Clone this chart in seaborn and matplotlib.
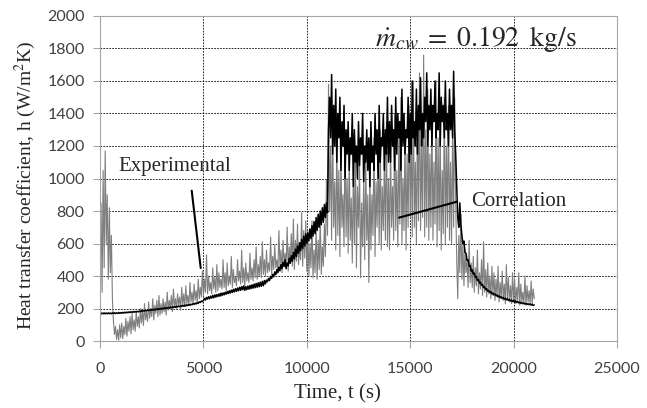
import numpy as np
import pandas as pd
import seaborn as sns
import matplotlib.pyplot as plt

# time axis (s), one reading every 50 s
time_s = np.arange(0, 21001, 50)

# experimental h (W/m2K) (one row = 1000 s)
h_exp = [
    400, 850, 300, 1050, 450, 1170, 600, 900, 380, 820, 420, 650, 250, 120, 40, 90, 10, 70, 5, 100,
    20, 110, 15, 90, 40, 140, 30, 120, 60, 150, 45, 170, 70, 130, 60, 180, 90, 150, 80, 200,
    110, 190, 95, 230, 130, 180, 120, 240, 140, 200, 150, 260, 130, 220, 170, 250, 150, 280, 160, 230,
    170, 260, 180, 240, 160, 300, 190, 250, 200, 280, 180, 320, 210, 260, 200, 290, 220, 270, 190, 330,
    220, 290, 210, 340, 230, 280, 220, 360, 240, 300, 230, 350, 250, 310, 240, 380, 260, 330, 270, 430,
    280, 380, 300, 530, 290, 400, 310, 360, 290, 450, 320, 390, 300, 470, 310, 420, 330, 380, 320, 500,
    330, 420, 310, 480, 340, 400, 350, 520, 330, 440, 360, 390, 340, 500, 370, 430, 350, 560, 360, 450,
    340, 480, 370, 420, 360, 540, 380, 450, 370, 500, 390, 580, 380, 470, 400, 520, 390, 610, 410, 500,
    400, 560, 420, 480, 430, 640, 410, 520, 440, 590, 450, 500, 430, 680, 460, 560, 420, 620, 470, 540,
    450, 700, 430, 580, 480, 660, 460, 750, 440, 620, 490, 720, 470, 580, 500, 790, 460, 680, 510, 740,
    430, 680, 400, 600, 450, 740, 390, 560, 420, 700, 380, 620, 440, 760, 410, 580, 460, 720, 520, 990,
    650, 1580, 800, 1200, 620, 1350, 700, 980, 560, 1250, 650, 1050, 520, 1150, 700, 900, 580, 1300, 640, 1000,
    540, 1150, 620, 880, 480, 1050, 600, 1200, 450, 950, 700, 1100, 390, 850, 580, 1000, 500, 1150, 620, 900,
    360, 1050, 560, 900, 650, 1250, 520, 980, 700, 1150, 600, 1300, 560, 950, 680, 1100, 620, 1350, 580, 1000,
    560, 1200, 700, 950, 620, 1400, 680, 1050, 580, 1250, 720, 1500, 600, 1000, 680, 1300, 560, 1150, 700, 1450,
    760, 1250, 640, 1600, 700, 1100, 600, 1400, 740, 1650, 680, 1200, 760, 1760, 640, 1300, 700, 1550, 620, 1150,
    700, 1450, 620, 1100, 720, 1600, 580, 1250, 680, 1350, 560, 1050, 660, 1500, 600, 1200, 700, 1450, 620, 1100,
    600, 1300, 700, 1500, 850, 500, 260, 650, 420, 780, 380, 600, 340, 560, 420, 500, 330, 620, 360, 480,
    330, 520, 300, 450, 340, 560, 290, 420, 320, 500, 280, 610, 300, 440, 270, 480, 290, 400, 260, 460,
    280, 420, 250, 380, 270, 460, 240, 360, 260, 430, 250, 350, 230, 470, 250, 390, 240, 340, 230, 420,
    240, 380, 230, 330, 250, 420, 220, 350, 240, 300, 230, 400, 220, 340, 240, 310, 225, 370, 230, 320,
    260,
]

# correlation h (W/m2K), black trace
h_corr = [
    173, 167, 172, 168, 173, 167, 172, 168, 173, 168, 172, 168, 173, 169, 174, 169, 173, 170, 175, 170,
    175, 171, 176, 172, 177, 173, 178, 174, 179, 175, 180, 176, 181, 177, 182, 178, 183, 179, 184, 180,
    186, 182, 188, 184, 190, 185, 191, 187, 193, 188, 194, 190, 196, 191, 197, 193, 199, 194, 200, 196,
    202, 197, 204, 199, 205, 201, 207, 202, 209, 204, 210, 206, 212, 207, 214, 209, 215, 211, 217, 213,
    219, 214, 221, 216, 223, 218, 225, 220, 227, 223, 230, 225, 233, 228, 237, 232, 241, 237, 246, 242,
    250, 262, 252, 268, 258, 272, 260, 276, 264, 280, 266, 284, 270, 286, 274, 290, 276, 294, 280, 296,
    284, 300, 288, 304, 292, 309, 295, 313, 299, 318, 302, 322, 306, 326, 309, 331, 312, 335, 316, 339,
    312, 334, 316, 338, 319, 342, 322, 346, 325, 350, 328, 354, 331, 358, 334, 362, 337, 367, 340, 372,
    352, 375, 365, 385, 372, 398, 385, 410, 395, 425, 408, 440, 420, 455, 432, 470, 445, 485, 458, 500,
    445, 480, 462, 510, 478, 525, 490, 545, 505, 565, 520, 585, 540, 605, 555, 625, 570, 645, 585, 660,
    600, 665, 615, 690, 630, 710, 645, 735, 660, 760, 680, 780, 700, 800, 715, 820, 730, 840, 760, 850,
    790, 1300, 1500, 1250, 1640, 1150, 1450, 1200, 1550, 1100, 1400, 1250, 1500, 1050, 1350, 1200, 1450, 1000, 1300, 1150,
    1350, 1050, 1250, 1150, 1400, 950, 1300, 1100, 1200, 1000, 1350, 1080, 1250, 1150, 1400, 980, 1200, 1100, 1300, 1050,
    1250, 950, 1350, 1100, 1200, 1050, 1400, 1150, 1300, 1000, 1450, 1100, 1250, 1200, 1400, 1050, 1300, 1150, 1500, 1100,
    1350, 1100, 1450, 1200, 1300, 1050, 1500, 1150, 1400, 1250, 1350, 1050, 1550, 1200, 1400, 1150, 1300, 1250, 1500, 1100,
    1400, 1150, 1600, 1250, 1350, 1200, 1550, 1150, 1450, 1300, 1620, 1200, 1400, 1250, 1500, 1350, 1650, 1200, 1450, 1300,
    1550, 1200, 1450, 1350, 1600, 1250, 1400, 1300, 1650, 1200, 1500, 1350, 1450, 1250, 1600, 1300, 1400, 1200, 1550, 1300,
    1450, 1250, 1660, 1300, 1150, 950, 760, 700, 850, 720, 650, 600, 615, 545, 540, 495, 500, 460, 465, 430,
    438, 412, 418, 392, 396, 372, 378, 356, 362, 342, 348, 328, 334, 316, 322, 306, 312, 298, 304, 290,
    296, 284, 290, 278, 284, 272, 278, 267, 273, 262, 268, 257, 264, 253, 260, 250, 256, 246, 252, 243,
    249, 240, 246, 237, 243, 234, 240, 232, 237, 229, 234, 227, 232, 225, 230, 223, 228, 221, 226, 219,
    222,
]

df = pd.DataFrame({'t': time_s, 'exp': h_exp, 'corr': h_corr})

sns.set_style('white')
plt.rcParams['mathtext.fontset'] = 'stix'
serif = 'Liberation Serif'

fig, ax = plt.subplots(figsize=(6.47, 4.08), dpi=100)
fig.subplots_adjust(left=0.1546, right=0.9536, bottom=0.1642, top=0.9608)

sns.lineplot(data=df, x='t', y='exp', color='#7f7f7f', lw=0.8, ax=ax, estimator=None, sort=False)
sns.lineplot(data=df, x='t', y='corr', color='black', lw=1.1, ax=ax, estimator=None, sort=False)

ax.set_xlim(0, 25000)
ax.set_ylim(0, 2000)
ax.set_xticks(range(0, 25001, 5000))
ax.set_yticks(range(0, 2001, 200))
ax.grid(True, color='black', linestyle=(0, (2, 1.5)), lw=0.6)
ax.set_axisbelow(True)
for s in ax.spines.values():
    s.set_color('#a6a6a6')
ax.tick_params(axis='both', direction='out', length=5, width=0.8, color='#a6a6a6',
               labelcolor='#404040', labelsize=11.5, bottom=True, left=True)
ax.tick_params(axis='x', pad=10)
ax.tick_params(axis='y', pad=6)
for lbl in ax.get_xticklabels() + ax.get_yticklabels():
    lbl.set_fontfamily('Lato')

ax.set_xlabel('Time, t (s)', fontfamily=serif, fontsize=15)
ax.set_ylabel('Heat transfer coefficient, h (W/m$^2$K)', fontfamily=serif, fontsize=14)
ax.xaxis.label.set_va('center')
ax.yaxis.label.set_va('center')
ax.xaxis.set_label_coords(0.46, -0.163)
ax.yaxis.set_label_coords(-0.145, 0.478)

ax.text(870, 1071, 'Experimental', fontfamily=serif, fontsize=15, va='center')
ax.plot([4434, 4870], [925, 449], color='black', lw=1.5)
ax.text(17940, 856, 'Correlation', fontfamily=serif, fontsize=15, va='center')
ax.plot([14458, 17278], [759, 858], color='black', lw=1.5)
ax.text(13300, 1816, r'$\dot{m}_{cw}\;=\;0.192\;\;\mathrm{kg/s}$', fontsize=20, va='baseline')

fig.savefig('out.png', dpi=100, facecolor='white')
